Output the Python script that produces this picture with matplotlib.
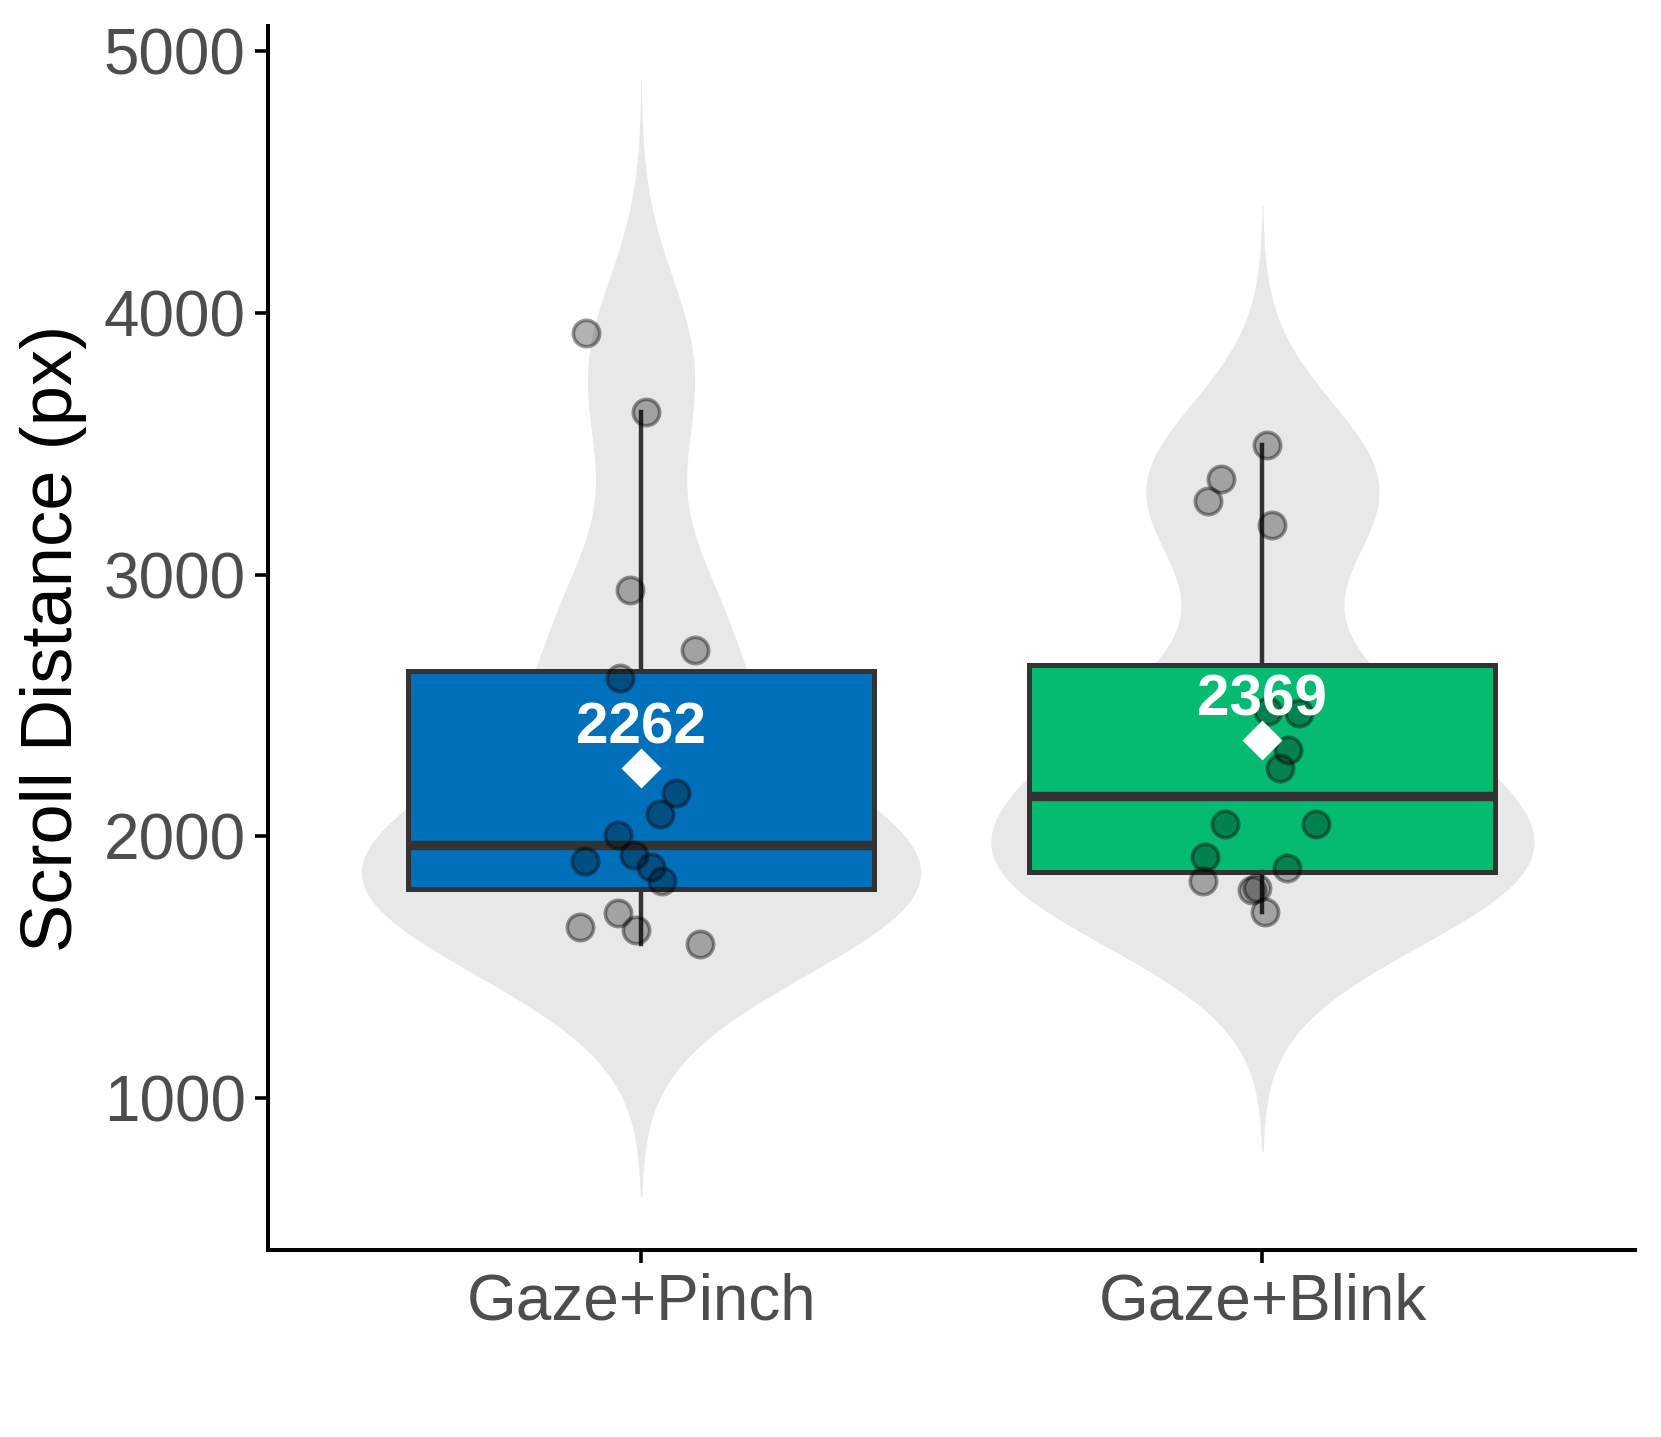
import numpy as np
import matplotlib
matplotlib.use("Agg")
import matplotlib.pyplot as plt

# data
groups = ["Gaze+Pinch", "Gaze+Blink"]
pinch = [3921, 3619, 2942, 2713, 2604, 2164, 2084, 2007, 1905, 1930,
         1883, 1828, 1709, 1654, 1641, 1589]
pinch_jit = [-0.089, 0.008, -0.018, 0.087, -0.034, 0.057, 0.031, -0.037, -0.090, -0.011,
             0.016, 0.034, -0.037, -0.099, -0.008, 0.095]
blink = [3495, 3364, 3279, 3189, 2478, 2471, 2330, 2260, 2048, 2048,
         1923, 1878, 1830, 1796, 1803, 1712]
blink_jit = [0.007, -0.067, -0.088, 0.015, 0.009, 0.059, 0.041, 0.029, -0.060, 0.086,
             -0.092, 0.040, -0.095, -0.016, -0.009, 0.004]
box_colors = ["#0070BB", "#05BB72"]

plt.rcParams['font.family'] = ['Liberation Sans', 'DejaVu Sans']

def nrd0(x):
    x = np.asarray(x, float)
    q1, q3 = np.percentile(x, [25, 75])
    lo = min(np.std(x, ddof=1), (q3 - q1) / 1.34)
    return 0.9 * lo * len(x) ** -0.2

def kde(x, bw):
    x = np.asarray(x, float)
    grid = np.linspace(x.min() - 3 * bw, x.max() + 3 * bw, 512)
    d = np.exp(-0.5 * ((grid[:, None] - x[None, :]) / bw) ** 2).sum(axis=1)
    d /= len(x) * bw * np.sqrt(2 * np.pi)
    return grid, d

fig = plt.figure(figsize=(1661 / 200, 1437 / 200), dpi=200)
ax = fig.add_axes([0.1615, 0.13, 0.823, 0.852])

all_data = [pinch, blink]
all_jit = [pinch_jit, blink_jit]
dens = [kde(d, nrd0(d)) for d in all_data]
dmax = max(d.max() for _, d in dens)

for i, (grid, d) in enumerate(dens):
    w = d / dmax * 0.45
    ax.fill_betweenx(grid, i - w, i + w, color="#E8E8E8", lw=0, zorder=1)

bp = ax.boxplot(all_data, positions=[0, 1], widths=0.75, patch_artist=True,
                showfliers=False, showcaps=False, whis=1.5,
                boxprops=dict(edgecolor="#333333", linewidth=1.8),
                whiskerprops=dict(color="#333333", linewidth=1.6),
                medianprops=dict(color="#333333", linewidth=3.4),
                zorder=2)
for patch, c in zip(bp['boxes'], box_colors):
    patch.set_facecolor(c)

for i, (vals, jit) in enumerate(zip(all_data, all_jit)):
    ax.scatter(np.array(jit) + i, vals, s=90, facecolor=(0, 0, 0, 0.3),
               edgecolor=(0, 0, 0, 0.4), linewidth=1.3, zorder=3)
    m = np.mean(vals)
    ax.plot(i, m, marker="D", color="white", markersize=9, zorder=4)
    ax.text(i, m + 150, f"{m:.0f}", color="white", fontsize=21,
            fontweight="bold", ha="center", va="center", zorder=5)

ax.set_xlim(-0.6, 1.6)
ax.set_ylim(420, 5095)
ax.set_xticks([0, 1])
ax.set_xticklabels(groups)
ax.set_yticks([1000, 2000, 3000, 4000, 5000])
ax.tick_params(labelsize=23, labelcolor="#4D4D4D", length=4.6, width=1.3, color="black")
ax.set_ylabel("Scroll Distance (px)", fontsize=26, color="black", labelpad=6)
for s in ["top", "right"]:
    ax.spines[s].set_visible(False)
for s in ["left", "bottom"]:
    ax.spines[s].set_linewidth(1.45)

fig.savefig("out.png", dpi=200)
